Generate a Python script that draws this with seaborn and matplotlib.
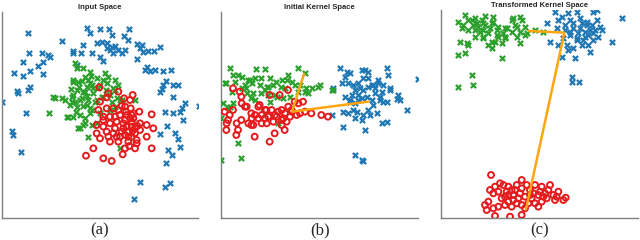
# kernel_space_scatter.py
# three panels: input space, initial kernel space, transformed kernel space

import numpy as np
import pandas as pd
import matplotlib
matplotlib.use("Agg")
import matplotlib.pyplot as plt
import seaborn as sns

# --- 1. DATA (arbitrary units; y grows downward) ---

# panel (a) input space
a_blue_x = [85, 260, 300, 328, 388, 270, 335, 372, 185, 250, 290, 305, 322, 335, 345, 330, 355, 375, 385, 410,
            425, 420, 430, 445, 462, 480, 87, 125, 145, 150, 218, 218, 243, 277, 300, 310, 412, 68, 128, 115,
            230, 440, 435, 450, 465, 488, 512, 42, 68, 90, 130, 497, 490, 520, 535, 485, 480, 50, 55, 90,
            85, 520, 555, 545, 540, 5, 598, 495, 520, 78, 550, 500, 35, 40, 525, 480, 535, 540, 505, 515,
            62, 498, 420, 510, 495, 402, 340, 365, 320]
a_blue_y = [98, 83, 88, 88, 88, 100, 105, 108, 123, 135, 128, 125, 130, 140, 138, 150, 150, 150, 120, 132,
            135, 145, 155, 152, 152, 142, 160, 160, 165, 170, 152, 160, 160, 160, 172, 182, 178, 187, 185, 198,
            195, 200, 210, 212, 210, 212, 210, 218, 228, 212, 223, 243, 255, 255, 255, 268, 275, 272, 278, 262,
            270, 290, 310, 325, 335, 305, 317, 337, 338, 338, 360, 378, 393, 405, 400, 402, 418, 440, 450, 465,
            455, 490, 545, 550, 560, 598, 158, 160, 145]

a_green_x = [225, 230, 250, 270, 315, 325, 220, 235, 265, 275, 185, 215, 225, 245, 260, 275, 205, 220, 265, 360,
             340, 350, 295, 255, 285, 305, 365, 165, 290, 250, 290, 245, 218, 270, 260, 280, 250, 230, 220, 345,
             330, 310, 290, 265, 240, 215, 195, 210, 230, 250, 270, 158, 148, 200, 240, 255, 270, 255, 275, 240,
             405, 345, 330, 300, 355, 320, 345, 360, 235, 310, 280, 262, 238, 228, 300, 318, 335, 255, 272, 212]
a_green_y = [190, 205, 205, 215, 220, 230, 240, 245, 240, 255, 295, 290, 305, 295, 315, 330, 350, 350, 410, 445,
             265, 295, 265, 275, 305, 290, 300, 295, 370, 375, 235, 242, 245, 250, 262, 265, 275, 270, 285, 270,
             285, 290, 300, 300, 300, 305, 300, 315, 320, 318, 325, 292, 340, 350, 345, 355, 340, 370, 375, 385,
             300, 320, 330, 340, 255, 250, 240, 300, 385, 240, 280, 288, 262, 335, 255, 270, 305, 232, 228, 268]

a_red_x = [298, 325, 320, 355, 372, 398, 390, 300, 295, 320, 340, 355, 375, 360, 380, 400, 418, 455, 310, 330,
           350, 375, 395, 420, 440, 460, 290, 310, 345, 370, 395, 420, 440, 290, 300, 325, 350, 375, 395, 410,
           330, 355, 385, 410, 375, 405, 455, 280, 258, 310, 335, 368, 310, 340, 365, 385, 395, 380, 405, 320,
           345, 330, 390, 370, 400, 360, 385, 405, 378, 392, 365, 398, 412, 388]
a_red_y = [262, 280, 292, 275, 295, 285, 300, 305, 330, 325, 325, 330, 320, 345, 345, 340, 335, 343, 350, 350,
           365, 360, 365, 370, 375, 385, 375, 380, 385, 385, 380, 390, 410, 400, 415, 410, 410, 405, 410, 420,
           425, 425, 425, 430, 445, 445, 445, 445, 467, 475, 483, 463, 360, 400, 395, 395, 345, 380, 400, 395,
           350, 370, 355, 370, 355, 410, 410, 385, 335, 325, 318, 392, 378, 438]

# panel (b) initial kernel space
b_green_x = [44, 124, 149, 249, 269, 69, 34, 104, 139, 184, 219, 94, 159, 199, 279, 309, 24, 54, 19, 189,
             69, 79, 19, 139, 179, 109, 249, 274, 55, 80, 100, 120, 165, 200, 215, 230, 30, 60, 90, 110,
             135, 155, 175, 210, 240, 290, 315, 270, 355, 50, 95, 115, 160, 185, 205, 165, 120, 35, 45, 350,
             225, 150, 80, 255]
b_green_y = [205, 207, 207, 205, 220, 225, 250, 240, 235, 245, 225, 265, 260, 260, 280, 260, 310, 310, 355, 370,
             430, 475, 480, 280, 285, 295, 275, 265, 225, 230, 240, 235, 235, 240, 240, 245, 250, 245, 255, 250,
             255, 260, 255, 265, 255, 265, 255, 275, 270, 275, 280, 280, 285, 290, 295, 305, 300, 320, 320, 270,
             290, 270, 265, 255]

b_red_x = [54, 74, 79, 219, 194, 164, 134, 154, 239, 264, 289, 319, 339, 29, 54, 44, 39, 34, 69, 64,
           109, 109, 119, 164, 179, 209, 79, 80, 95, 130, 150, 170, 190, 210, 120, 140, 160, 185, 200, 230,
           255, 130, 150, 110, 90, 220, 250, 270, 200, 230, 100, 115, 140, 155, 175, 200, 215, 225, 245, 65,
           35, 180, 205]
b_red_y = [265, 275, 290, 270, 285, 285, 315, 330, 305, 305, 340, 345, 350, 335, 330, 345, 360, 390, 390, 405,
           340, 375, 410, 425, 400, 390, 360, 310, 320, 320, 330, 330, 335, 340, 345, 345, 350, 350, 330, 335,
           340, 355, 355, 355, 320, 320, 310, 335, 375, 330, 370, 375, 370, 370, 365, 360, 365, 350, 345, 370,
           370, 345, 355]

b_blue_x = [375, 395, 390, 450, 445, 515, 520, 610, 415, 435, 475, 500, 525, 495, 550, 555, 405, 440, 475, 505,
            385, 425, 445, 465, 420, 440, 350, 575, 500, 515, 385, 450, 420, 440, 445, 405, 440, 460, 490, 430,
            400, 380, 505, 525, 480, 445, 420, 430, 410, 390, 455, 470, 495, 515, 545, 355, 405, 430, 460, 485,
            415, 400, 470, 480, 460, 420, 460, 490]
b_blue_y = [203, 215, 230, 210, 235, 205, 225, 237, 255, 265, 255, 275, 270, 290, 285, 300, 300, 295, 315, 305,
            335, 335, 345, 345, 355, 360, 345, 330, 370, 365, 380, 390, 465, 480, 482, 220, 210, 215, 240, 250,
            250, 250, 255, 265, 280, 270, 270, 285, 285, 290, 290, 300, 300, 305, 298, 265, 305, 300, 330, 340,
            330, 340, 255, 265, 260, 310, 235, 250]

b_tri_x = [267, 231, 460, 267]
b_tri_y = [222, 335, 305, 222]

# panel (c) transformed kernel space
c_green_x = [120, 140, 180, 205, 260, 285, 110, 145, 175, 220, 245, 275, 190, 215, 240, 275, 300, 330, 355, 200,
             230, 285, 200, 105, 125, 100, 120, 230, 140, 100, 145, 165, 175, 130, 150, 170, 100, 115, 160, 180,
             200, 265, 290, 130, 150, 175, 195, 215, 240, 260, 285, 305, 150, 175, 220, 240, 210, 190, 270, 300,
             128, 205, 155, 235]
c_green_y = [45, 60, 47, 50, 60, 50, 85, 75, 70, 80, 85, 80, 100, 105, 110, 110, 105, 90, 95, 125,
             130, 130, 145, 125, 130, 165, 160, 175, 225, 260, 255, 95, 115, 60, 55, 60, 65, 75, 80, 75,
             70, 55, 60, 90, 90, 90, 85, 90, 85, 95, 95, 100, 110, 110, 110, 115, 125, 135, 75, 80,
             135, 65, 70, 100]

c_blue_x = [390, 430, 455, 505, 515, 590, 365, 400, 435, 465, 485, 515, 525, 445, 465, 495, 530, 375, 400, 435,
            455, 480, 505, 520, 425, 445, 470, 490, 560, 410, 450, 430, 495, 440, 440, 463, 415, 485, 505, 410,
            420, 445, 470, 500, 480, 460, 435, 420, 455, 490, 510, 475, 395]
c_blue_y = [35, 40, 35, 35, 30, 55, 70, 60, 60, 55, 65, 60, 80, 85, 85, 90, 90, 125, 135, 105,
            115, 110, 120, 110, 135, 145, 135, 135, 125, 170, 175, 150, 155, 230, 247, 245, 115, 75, 100, 50,
            75, 70, 70, 75, 95, 100, 95, 90, 120, 105, 90, 120, 85]

c_red_x = [198, 290, 195, 210, 225, 235, 245, 205, 220, 250, 270, 285, 290, 315, 330, 350, 360, 370, 385, 400,
           340, 320, 300, 265, 250, 230, 190, 180, 185, 205, 220, 240, 260, 275, 290, 310, 330, 350, 365, 390,
           415, 422, 255, 210, 290, 300, 340, 305, 275, 260, 355, 375, 395, 280, 250, 325, 345, 315, 240, 265]
c_red_y = [525, 540, 570, 560, 550, 555, 575, 580, 575, 585, 570, 580, 565, 570, 555, 560, 580, 570, 585, 575,
           585, 595, 590, 600, 605, 595, 605, 615, 630, 625, 620, 615, 620, 610, 615, 610, 610, 605, 595, 600,
           600, 593, 650, 648, 645, 625, 620, 555, 555, 570, 590, 555, 590, 595, 560, 580, 575, 585, 590, 585]

c_tri_x = [312, 418, 303, 312]
c_tri_y = [93, 98, 628, 93]

titles = ["Input Space", "Initial Kernel Space", "Transformed Kernel Space"]
captions = ["(a)", "(b)", "(c)"]

BLUE = "#1f77b4"
GREEN = "#2ca02c"
RED = "#e41a1c"
ORANGE = "#ffa510"

# --- 2. FIGURE ---

sns.set_style("white")
fig = plt.figure(figsize=(6.4, 2.4), dpi=100)

# axes boxes in figure fractions
boxes = [
    [0.0026, 0.0903, 0.3073, 0.8611],
    [0.3453, 0.0903, 0.3083, 0.8611],
    [0.6891, 0.0903, 0.3083, 0.8681],
]
xlims = [(5, 595), (18, 610), (48, 640)]
ylims = [(655, 35), (655, 35), (655, 30)]

panels = [
    dict(blue=(a_blue_x, a_blue_y), green=(a_green_x, a_green_y), red=(a_red_x, a_red_y), tri=None),
    dict(blue=(b_blue_x, b_blue_y), green=(b_green_x, b_green_y), red=(b_red_x, b_red_y), tri=(b_tri_x, b_tri_y)),
    dict(blue=(c_blue_x, c_blue_y), green=(c_green_x, c_green_y), red=(c_red_x, c_red_y), tri=(c_tri_x, c_tri_y)),
]

for i, p in enumerate(panels):
    ax = fig.add_axes(boxes[i])
    sns.scatterplot(x=p["blue"][0], y=p["blue"][1], ax=ax, marker="x", color=BLUE,
                    s=14, linewidth=1.6, zorder=2)
    sns.scatterplot(x=p["green"][0], y=p["green"][1], ax=ax, marker="x", color=GREEN,
                    s=14, linewidth=1.6, zorder=3)
    sns.scatterplot(x=p["red"][0], y=p["red"][1], ax=ax, marker="o", facecolors="none",
                    edgecolor=RED, s=18, linewidth=1.4, zorder=4)
    if p["tri"] is not None:
        tri = pd.DataFrame({"x": p["tri"][0], "y": p["tri"][1]})
        sns.lineplot(data=tri, x="x", y="y", ax=ax, sort=False, color=ORANGE,
                     linewidth=1.8, zorder=5)
    ax.set_xlim(*xlims[i])
    ax.set_ylim(*ylims[i])
    ax.set_xticks([])
    ax.set_yticks([])
    ax.set_ylabel("")
    ax.set_xlabel(captions[i], family=["Liberation Serif", "DejaVu Serif"], fontsize=12, labelpad=3)
    ax.set_title(titles[i], fontsize=5.5, fontweight="bold", pad=2,
                 family=["Liberation Sans", "DejaVu Sans"])
    sns.despine(ax=ax)
    for side in ["left", "bottom"]:
        ax.spines[side].set_color("#808080")
        ax.spines[side].set_linewidth(1.0)

plt.savefig("out.png", dpi=100)
